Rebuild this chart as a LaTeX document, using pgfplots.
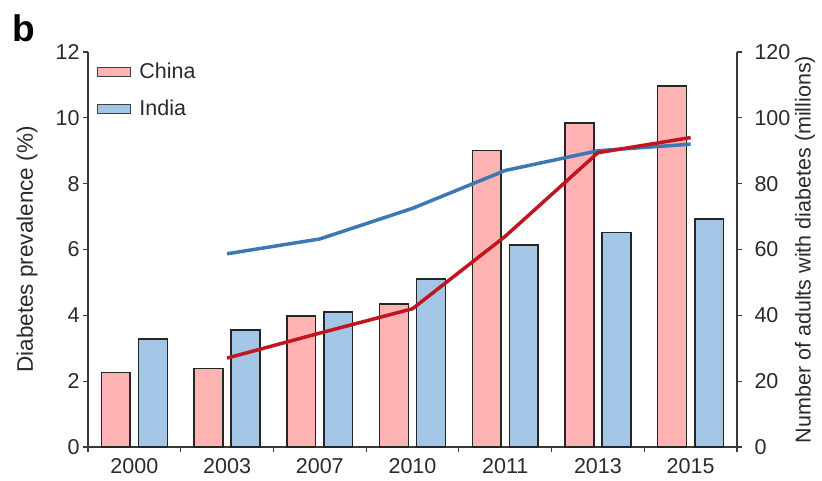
\documentclass[border=0pt]{standalone}
\usepackage{fontspec}
\setmainfont{Liberation Sans}
\usepackage{pgfplots}
\pgfplotsset{compat=1.18}
\definecolor{chinafill}{HTML}{FFB3B3}
\definecolor{indiafill}{HTML}{A3C5E6}
\definecolor{redline}{HTML}{C0161F}
\definecolor{blueline}{HTML}{3D78B5}
\definecolor{axisgray}{HTML}{3A3A3A}
\definecolor{textgray}{HTML}{2A2A2A}

\pgfplotstableread{
x china india
0 2.26 3.28
1 2.38 3.56
2 3.98 4.10
3 4.34 5.10
4 9.00 6.13
5 9.84 6.51
6 10.96 6.93
}\bars

\pgfplotstableread{
x china india
1 27.0 58.7
2 34.6 63.2
3 42.0 72.5
4 64.0 84.0
5 89.4 90.0
6 94.0 92.0
}\lines

\begin{document}
\begin{tikzpicture}[font=\fontsize{21.5}{25}\selectfont, text=textgray]
\useasboundingbox (-88pt,-34pt) rectangle (734pt,447pt);
\begin{axis}[
  at={(0pt,0pt)}, anchor=south west,
  scale only axis, width=649pt, height=395pt,
  xmin=-0.5, xmax=6.5, ymin=0, ymax=12,
  axis x line*=bottom, axis y line*=left,
  axis line style={-, draw=axisgray, line width=1.3pt},
  tick style={draw=axisgray, line width=1.1pt},
  tick align=outside, major tick length=5pt,
  ytick={0,2,...,12},
  xtick={-0.5,0.5,...,6.5}, xticklabels={},
  extra x ticks={0,1,2,3,4,5,6},
  extra x tick labels={2000,2003,2007,2010,2011,2013,2015},
  extra x tick style={major tick length=0pt},
  xticklabel style={yshift=-8pt},
  /pgf/number format/assume math mode=true,
  ylabel={Diabetes prevalence (\%)},
  every axis y label/.style={at={(axis description cs:0,0.5)}, xshift=-61pt, rotate=90, anchor=center, font=\fontsize{22.5}{26}\selectfont},
  legend style={at={(axis description cs:0,1)}, anchor=north west, xshift=6pt, yshift=-7pt,
     draw=none, fill=none, row sep=16pt, font=\fontsize{21.5}{25}\selectfont,
     /tikz/every odd column/.append style={column sep=6pt}},
  legend cell align=left,
  clip=false,
]
\addplot[ybar, bar width=0.31, bar shift=-0.2, fill=chinafill, draw=black!85, line width=1.5pt,
  legend image code/.code={\draw[fill=chinafill, draw=black!75, line width=1.2pt] (0pt,-4.5pt) rectangle (33pt,4.5pt);}]
  table[x=x, y=china] {\bars};
\addlegendentry{China}
\addplot[ybar, bar width=0.31, bar shift=0.2, fill=indiafill, draw=black!85, line width=1.5pt,
  legend image code/.code={\draw[fill=indiafill, draw=black!75, line width=1.2pt] (0pt,-4.5pt) rectangle (33pt,4.5pt);}]
  table[x=x, y=india] {\bars};
\addlegendentry{India}
\end{axis}
\begin{axis}[
  at={(0pt,0pt)}, anchor=south west,
  scale only axis, width=649pt, height=395pt,
  xmin=-0.5, xmax=6.5, ymin=0, ymax=120,
  axis x line=none, axis y line*=right,
  axis line style={-, draw=axisgray, line width=1.3pt},
  tick style={draw=axisgray, line width=1.1pt},
  tick align=outside, major tick length=5pt,
  ytick={0,20,...,120},
  yticklabel style={xshift=9pt},
  /pgf/number format/assume math mode=true,
  ylabel={Number of adults with diabetes (millions)},
  every axis y label/.style={at={(axis description cs:1,0.5)}, xshift=68pt, rotate=90, anchor=center},
  clip=false,
]
\addplot[blueline, line width=3.5pt, line join=round] table[x=x, y=india] {\lines};
\addplot[redline, line width=3.5pt, line join=round] table[x=x, y=china] {\lines};
\end{axis}
\node[anchor=base west, inner sep=0pt, font=\fontsize{37}{40}\selectfont\bfseries, text=black] at (-76pt,405pt) {b};
\end{tikzpicture}
\end{document}
